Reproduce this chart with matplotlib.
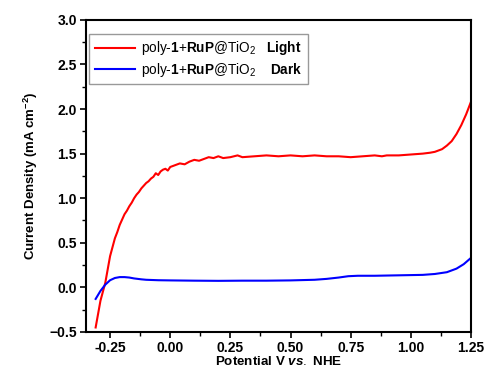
import matplotlib
matplotlib.use("Agg")
import matplotlib.pyplot as plt
from matplotlib.ticker import MultipleLocator

plt.rcParams["font.family"] = ["Liberation Sans", "DejaVu Sans"]
plt.rcParams["mathtext.fontset"] = "custom"
plt.rcParams["mathtext.rm"] = "Liberation Sans"
plt.rcParams["mathtext.it"] = "Liberation Sans:bold:italic"
plt.rcParams["mathtext.bf"] = "Liberation Sans:bold"

# Light curve (potential V vs NHE, current density mA cm^-2)
light_x = [-0.31, -0.30, -0.29, -0.28, -0.27, -0.26, -0.25, -0.24, -0.23, -0.22,
           -0.21, -0.20, -0.19, -0.18, -0.17, -0.16, -0.15, -0.14, -0.13, -0.12,
           -0.11, -0.10, -0.09, -0.08, -0.07, -0.06, -0.05, -0.04, -0.03, -0.02,
           -0.01, 0.00, 0.02, 0.04, 0.06, 0.08, 0.10, 0.12, 0.14, 0.16,
           0.18, 0.20, 0.22, 0.25, 0.28, 0.30, 0.35, 0.40, 0.45, 0.50,
           0.55, 0.60, 0.65, 0.70, 0.75, 0.80, 0.85, 0.88, 0.90, 0.95,
           1.00, 1.05, 1.08, 1.10, 1.13, 1.15, 1.17, 1.19, 1.21, 1.23, 1.25]
light_y = [-0.45, -0.30, -0.15, -0.05, 0.05, 0.20, 0.35, 0.45, 0.55, 0.62,
           0.70, 0.76, 0.82, 0.86, 0.91, 0.95, 1.00, 1.04, 1.07, 1.11,
           1.14, 1.17, 1.19, 1.22, 1.24, 1.28, 1.26, 1.30, 1.32, 1.33,
           1.31, 1.35, 1.37, 1.39, 1.38, 1.41, 1.43, 1.42, 1.44, 1.46,
           1.45, 1.47, 1.45, 1.46, 1.48, 1.46, 1.47, 1.48, 1.47, 1.48,
           1.47, 1.48, 1.47, 1.47, 1.46, 1.47, 1.48, 1.47, 1.48, 1.48,
           1.49, 1.50, 1.51, 1.52, 1.55, 1.59, 1.64, 1.72, 1.82, 1.94, 2.08]

# Dark curve
dark_x = [-0.31, -0.29, -0.27, -0.25, -0.23, -0.21, -0.19, -0.17, -0.15, -0.12,
          -0.10, -0.05, 0.00, 0.10, 0.20, 0.30, 0.40, 0.50, 0.60, 0.65,
          0.70, 0.74, 0.78, 0.85, 0.95, 1.05, 1.10, 1.15, 1.19, 1.22, 1.25]
dark_y = [-0.13, -0.04, 0.03, 0.08, 0.105, 0.115, 0.115, 0.11, 0.10, 0.09,
          0.085, 0.08, 0.078, 0.075, 0.073, 0.075, 0.075, 0.078, 0.085, 0.095,
          0.11, 0.125, 0.13, 0.13, 0.135, 0.14, 0.15, 0.17, 0.21, 0.26, 0.33]

xtick_vals = [-0.25, 0, 0.25, 0.5, 0.75, 1.0, 1.25]
xtick_text = ["-0.25", "0.00", "0.25", "0.50", "0.75", "1.00", "1.25"]

fig = plt.figure(figsize=(4.86, 3.68), dpi=100)
ax = fig.add_axes([0.177, 0.098, 0.792, 0.848])

ax.plot(light_x, light_y, color="#ff0000", lw=1.5,
        label=r"poly-$\mathbf{1}$+$\mathbf{RuP}$@TiO$_2$   $\mathbf{Light}$")
ax.plot(dark_x, dark_y, color="#0000ff", lw=1.5,
        label=r"poly-$\mathbf{1}$+$\mathbf{RuP}$@TiO$_2$    $\mathbf{Dark}$")

ax.set_xlim(-0.35, 1.25)
ax.set_ylim(-0.5, 3.0)
ax.set_xticks(xtick_vals)
ax.set_xticklabels(xtick_text)
ax.xaxis.set_minor_locator(MultipleLocator(0.125))
ax.yaxis.set_major_locator(MultipleLocator(0.5))
ax.yaxis.set_minor_locator(MultipleLocator(0.25))

ax.tick_params(which="major", direction="out", length=4.5, width=1.2, labelsize=10, pad=2)
ax.tick_params(which="minor", direction="out", length=3, width=1.0)
for lbl in ax.get_xticklabels() + ax.get_yticklabels():
    lbl.set_fontweight("bold")
for s in ax.spines.values():
    s.set_linewidth(1.5)

ax.set_xlabel(r"Potential V $\mathit{vs.}$ NHE", fontsize=9.6, fontweight="bold", labelpad=0)
ax.set_ylabel(r"Current Density (mA cm$^{\mathbf{-2}}$)", fontsize=9.5, fontweight="bold", labelpad=7)

leg = ax.legend(loc="upper left", bbox_to_anchor=(0.008, 0.955), fontsize=9.8,
                fancybox=False, edgecolor="#999999", handlelength=3.0,
                borderaxespad=0, framealpha=1, labelspacing=0.25,
                borderpad=0.4, handletextpad=0.4)
leg.get_frame().set_linewidth(1.0)

fig.savefig("out.png", dpi=100)
